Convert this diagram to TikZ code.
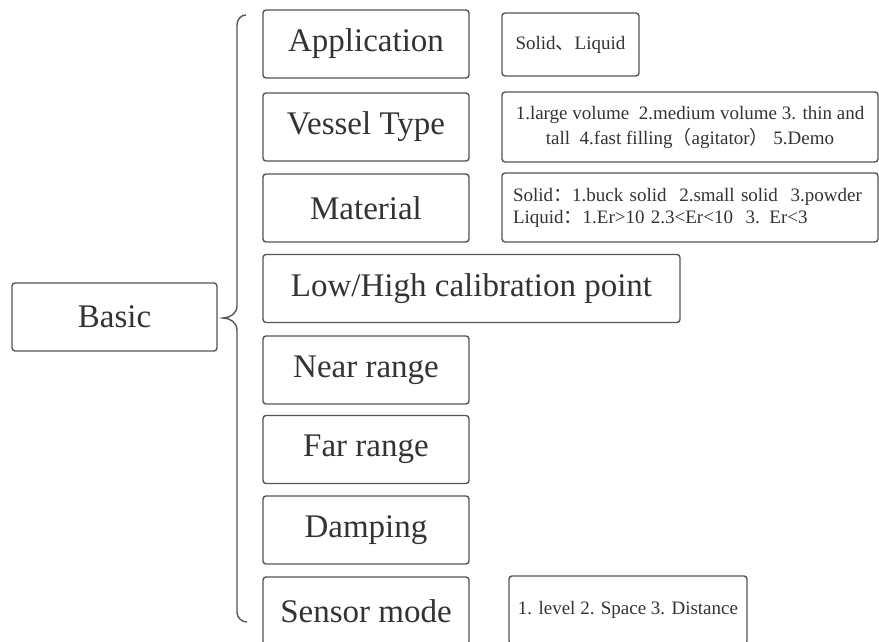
\documentclass[tikz,border=0pt]{standalone}
\usepackage{fontspec}
\setmainfont{Liberation Serif}
\newfontfamily\cjk{Noto Sans CJK SC}
\definecolor{linegray}{HTML}{555555}
\definecolor{textgray}{HTML}{333333}
\tikzset{
  box/.style={draw=linegray, line width=1.4pt, rounded corners=3pt, text=textgray,
    inner sep=0pt, minimum height=68pt, font=\fontsize{33}{38}\selectfont},
  descbox/.style={box, font=\fontsize{19}{25}\selectfont},
}
\begin{document}
\begin{tikzpicture}[x=1pt, y=-1pt]
  \useasboundingbox (0,0) rectangle (879,642);
  % root
  \node[box, minimum width=205pt] (basic) at (114.5,317) {Basic};
  % items
  \node[box, minimum width=206pt] (app) at (366,44) {Application};
  \node[box, minimum width=206pt] (vessel) at (366,127) {Vessel Type};
  \node[box, minimum width=206pt] (material) at (366,208) {Material};
  \node[box, minimum width=417pt] (calib) at (471.5,288.5) {Low/High calibration point};
  \node[box, minimum width=206pt] (near) at (366,370) {Near range};
  \node[box, minimum width=206pt] (far) at (366,449.5) {Far range};
  \node[box, minimum width=206pt] (damping) at (366,530) {Damping};
  \node[box, minimum width=206pt] (sensor) at (366,611) {Sensor mode};
  % descriptions
  \node[descbox, minimum width=137pt, minimum height=63pt] (appdesc) at (570.5,44.5) {Solid{\cjk 、}Liquid};
  \node[descbox, minimum width=376pt, minimum height=70pt, align=center] (vesseldesc) at (690,127)
    {1.large volume\ \ 2.medium volume 3. thin and\\tall\ \ 4.fast filling{\cjk （}agitator{\cjk ）} 5.Demo};
  \node[descbox, minimum height=69pt, inner xsep=11pt, text width=354pt, align=left,
    font=\fontsize{19}{22}\selectfont] (materialdesc) at (690,207.5)
    {Solid{\cjk ：}1.buck solid\ \ 2.small solid\ \ 3.powder\\Liquid{\cjk ：}1.Er>10 2.3<Er<10\ \ 3. Er<3};
  \node[descbox, minimum width=238pt] (sensordesc) at (628,610) {1. level 2. Space 3. Distance};
  % brace
  \coordinate (tip) at (223,318);
  \draw[linegray, line width=1.4pt] (246,15) to[out=180, in=90] (237,25) -- (237,306)
    to[out=-90, in=0] (tip) to[out=0, in=90] (237,330) -- (237,612)
    to[out=-90, in=180] (247,622);
\end{tikzpicture}
\end{document}
